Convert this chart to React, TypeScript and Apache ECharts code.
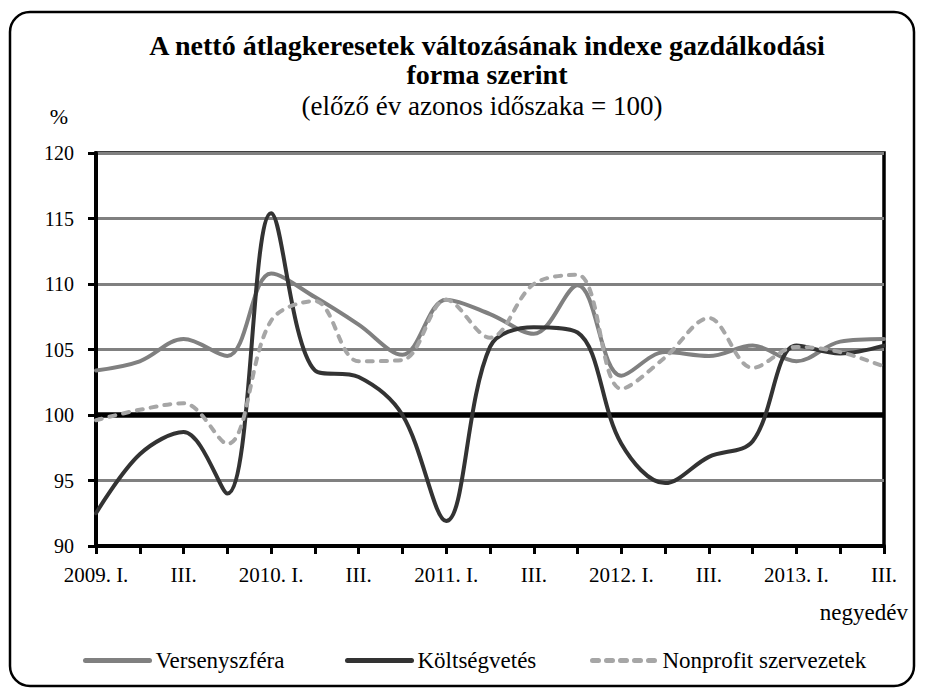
import React, { useEffect, useRef } from "react";
import * as echarts from "echarts";

const categories = [
  "2009. I.", "2009. II.", "2009. III.", "2009. IV.",
  "2010. I.", "2010. II.", "2010. III.", "2010. IV.",
  "2011. I.", "2011. II.", "2011. III.", "2011. IV.",
  "2012. I.", "2012. II.", "2012. III.", "2012. IV.",
  "2013. I.", "2013. II.", "2013. III.",
];

const versenyszfera = [103.4, 104.1, 105.8, 104.5, 110.8, 109.0, 106.9, 104.6, 108.8, 107.7, 106.2, 109.9, 103.0, 104.8, 104.5, 105.3, 104.1, 105.6, 105.8];
const koltsegvetes = [92.5, 97.0, 98.7, 94.0, 115.4, 103.4, 102.9, 100.0, 91.9, 105.2, 106.7, 106.3, 97.8, 94.8, 96.8, 98.0, 105.3, 104.7, 105.3];
const nonprofit = [99.6, 100.4, 100.9, 97.8, 107.2, 108.7, 104.1, 104.2, 108.8, 105.9, 110.0, 110.7, 102.0, 104.4, 107.4, 103.6, 105.2, 104.8, 103.7];

const seriesNames = ["Versenyszféra", "Költségvetés", "Nonprofit szervezetek"];
const yMin = 90;
const yMax = 120;
const yStep = 5;
const refLevel = 100;

const FONT = "Liberation Serif, DejaVu Serif, serif";

export default function App() {
  const ref = useRef<HTMLDivElement>(null);
  useEffect(() => {
    if (!ref.current) return;
    const chart = echarts.init(ref.current, undefined, { renderer: "svg" });
    const legendBase = {
      orient: "horizontal",
      itemWidth: 64,
      itemHeight: 14,
      itemGap: 0,
      itemStyle: { opacity: 0 },
      lineStyle: { width: 5, cap: "round" },
      textStyle: { fontFamily: FONT, fontSize: 23, color: "#000", padding: [0, 0, 0, 1] },
      selectedMode: false,
    };
    chart.setOption({
      animation: false,
      backgroundColor: "#fff",
      textStyle: { fontFamily: FONT },
      grid: {
        left: 96,
        right: 41,
        top: 153,
        bottom: 147,
        show: true,
        borderColor: "#000",
        borderWidth: 3.5,
      },
      legend: [
        { ...legendBase, left: 78, top: 644, data: [seriesNames[0]] },
        { ...legendBase, left: 340, top: 644, data: [seriesNames[1]] },
        { ...legendBase, left: 585, top: 644, data: [seriesNames[2]] },
      ],
      xAxis: {
        type: "category",
        data: categories,
        boundaryGap: false,
        axisLine: { lineStyle: { color: "#000", width: 4 } },
        axisTick: { show: true, inside: false, length: 8, interval: 0, lineStyle: { color: "#000", width: 3 } },
        axisLabel: {
          interval: 1,
          margin: 18,
          fontFamily: FONT,
          fontSize: 21,
          color: "#000",
          formatter: (v: string) => (v.endsWith(" I.") ? v : v.split(" ")[1]),
        },
        splitLine: { show: false },
      },
      yAxis: {
        type: "value",
        min: yMin,
        max: yMax,
        interval: yStep,
        axisLine: { show: true, lineStyle: { color: "#000", width: 4 } },
        axisTick: { show: true, inside: false, length: 8, lineStyle: { color: "#000", width: 3 } },
        axisLabel: { margin: 22, fontFamily: FONT, fontSize: 20, color: "#000" },
        splitLine: { show: true, lineStyle: { color: "#808080", width: 3 } },
      },
      graphic: [
        {
          type: "rect",
          shape: { x: 10, y: 12, width: 904, height: 674, r: 20 },
          style: { fill: "none", stroke: "#000", lineWidth: 2.5 },
          silent: true,
          z: -10,
        },
        {
          type: "text",
          x: 487,
          y: 45,
          style: {
            text: "A nettó átlagkeresetek változásának indexe gazdálkodási",
            font: `bold 28px ${FONT}`,
            fill: "#000",
            textAlign: "center",
            textVerticalAlign: "middle",
          },
        },
        {
          type: "text",
          x: 487,
          y: 74,
          style: {
            text: "forma szerint",
            font: `bold 28px ${FONT}`,
            fill: "#000",
            textAlign: "center",
            textVerticalAlign: "middle",
          },
        },
        {
          type: "text",
          x: 482,
          y: 106,
          style: {
            text: "(előző év azonos időszaka = 100)",
            font: `27px ${FONT}`,
            fill: "#000",
            textAlign: "center",
            textVerticalAlign: "middle",
          },
        },
        {
          type: "text",
          x: 59,
          y: 116,
          style: {
            text: "%",
            font: `22px ${FONT}`,
            fill: "#000",
            textAlign: "center",
            textVerticalAlign: "middle",
          },
        },
        {
          type: "text",
          x: 908,
          y: 612,
          style: {
            text: "negyedév",
            font: `23px ${FONT}`,
            fill: "#000",
            textAlign: "right",
            textVerticalAlign: "middle",
          },
        },
      ],
      series: [
        {
          name: seriesNames[0],
          type: "line",
          data: versenyszfera,
          smooth: 0.35,
          symbol: "none",
          lineStyle: { color: "#808080", width: 4, cap: "round" },
          itemStyle: { color: "#808080" },
          z: 3,
          markLine: {
            silent: true,
            symbol: "none",
            label: { show: false },
            lineStyle: { color: "#000", width: 5.5, type: "solid" },
            data: [{ yAxis: refLevel }],
            z: 2,
          },
        },
        {
          name: seriesNames[1],
          type: "line",
          data: koltsegvetes,
          smooth: 0.35,
          symbol: "none",
          lineStyle: { color: "#333333", width: 4, cap: "round" },
          itemStyle: { color: "#333333" },
          z: 4,
        },
        {
          name: seriesNames[2],
          type: "line",
          data: nonprofit,
          smooth: 0.35,
          symbol: "none",
          lineStyle: { color: "#a6a6a6", width: 4, type: [6, 8], cap: "round" },
          itemStyle: { color: "#a6a6a6" },
          z: 5,
        },
      ],
    });
    return () => chart.dispose();
  }, []);
  return <div ref={ref} style={{ width: 925, height: 693, position: "absolute", left: 0, top: 0 }} />;
}
